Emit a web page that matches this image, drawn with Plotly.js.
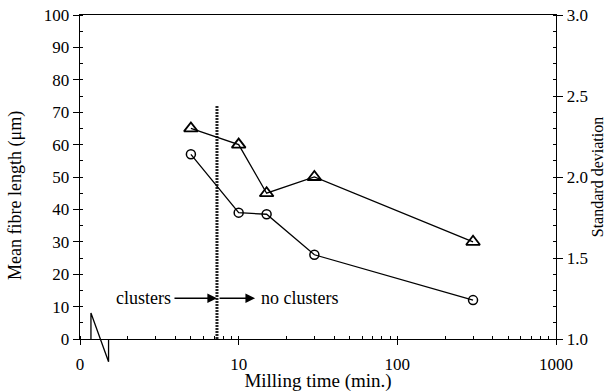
<!DOCTYPE html>
<html>
<head>
<meta charset="utf-8">
<script src="https://cdn.plot.ly/plotly-3.0.1.min.js"></script>
<style>html,body{margin:0;padding:0;background:#fff}#chart{width:614px;height:392px}</style>
</head>
<body>
<div id="chart"></div>
<script>
// Data
const millingTime = [5, 10, 15, 30, 300];
const triangleSeries = [65, 60, 45, 50, 30];
const circleSeries = [57, 39, 38.5, 26, 12];
const boundaryTime = [7.3, 7.3];
const boundaryY = [0, 72];
const xTickVals = [1, 10, 100, 1000];
const xTickText = ['0', '10', '100', '1000'];
const arrowY = 12.6;

const font = {family: 'Liberation Serif, Times New Roman, serif', color: '#000'};
const F = (s) => Object.assign({}, font, {size: s});

const traces = [
  {x: boundaryTime, y: boundaryY, mode: 'lines', line: {color: '#222', width: 3, dash: '2px,1px'}, hoverinfo: 'skip', showlegend: false},
  {x: millingTime, y: triangleSeries, mode: 'lines+markers', line: {color: '#000', width: 1.3},
   marker: {symbol: 'triangle-up-open', size: 12, color: '#000', line: {width: 1.8, color: '#000'}}, showlegend: false},
  {x: millingTime, y: circleSeries, mode: 'lines+markers', line: {color: '#000', width: 1.3},
   marker: {symbol: 'circle-open', size: 9, color: '#000', line: {width: 1.5, color: '#000'}}, showlegend: false},
  {x: [], y: [], yaxis: 'y2', showlegend: false}
];

const lb = Math.log10(boundaryTime[0]);
const arrowCommon = {xref: 'x', yref: 'y', text: '', showarrow: true, arrowhead: 2, arrowsize: 1.2,
  arrowwidth: 1.6, arrowcolor: '#000', axref: 'pixel', ayref: 'pixel', ay: 0};
const layout = {
  width: 614, height: 392,
  margin: {l: 80, r: 58, t: 15, b: 53},
  paper_bgcolor: '#fff', plot_bgcolor: '#fff',
  font: F(17),
  showlegend: false,
  xaxis: {
    type: 'log', range: [0, 3], tickvals: xTickVals, ticktext: xTickText,
    showline: true, linecolor: '#000', linewidth: 1.3, mirror: true,
    ticks: 'outside', ticklen: 5, tickcolor: '#000', showgrid: false, zeroline: false,
    minor: {ticks: 'inside', ticklen: 3, tickcolor: '#000', dtick: 'D1', showgrid: false},
    tickfont: F(17), ticklabelstandoff: 4,
    title: {text: 'Milling time (min.)', font: F(19), standoff: 1}
  },
  yaxis: {
    range: [0, 100], dtick: 10, showline: true, linecolor: '#000', linewidth: 1.3,
    ticks: 'outside', ticklen: 6, tickcolor: '#000', showgrid: false, zeroline: false,
    minor: {ticks: 'inside', ticklen: 3, tickcolor: '#000', dtick: 5, showgrid: false},
    tickfont: F(17)
  },
  yaxis2: {
    overlaying: 'y', side: 'right', range: [1, 3], dtick: 0.5, tickformat: '.1f',
    showline: true, linecolor: '#000', linewidth: 1.3,
    ticks: 'outside', ticklen: 6, tickcolor: '#000', showgrid: false, zeroline: false,
    minor: {ticks: 'inside', ticklen: 3, tickcolor: '#000', dtick: 0.1, showgrid: false},
    tickfont: F(17),
    title: {text: 'Standard deviation', font: F(16), standoff: 4}
  },
  annotations: [
    {xref: 'paper', yref: 'paper', x: -0.137, y: 0.444, text: 'Mean fibre length (μm)',
     textangle: -90, showarrow: false, xanchor: 'center', yanchor: 'middle', font: F(18)},
    Object.assign({}, arrowCommon, {x: lb, y: arrowY, ax: -44}),
    Object.assign({}, arrowCommon, {x: lb + 0.24, y: arrowY, ax: -37}),
    {x: lb, y: arrowY, xref: 'x', yref: 'y', text: 'clusters', showarrow: false,
     xanchor: 'right', xshift: -44, font: F(18)},
    {x: lb, y: arrowY, xref: 'x', yref: 'y', text: 'no clusters', showarrow: false,
     xanchor: 'left', xshift: 42, font: F(18)}
  ],
  shapes: [
    {type: 'path', xref: 'paper', yref: 'paper',
     path: 'M 0.023 0 L 0.023 0.08 L 0.06 -0.07 L 0.06 0',
     line: {color: '#000', width: 1.3}}
  ]
};

Plotly.newPlot('chart', traces, layout, {staticPlot: true});
</script>
</body>
</html>
